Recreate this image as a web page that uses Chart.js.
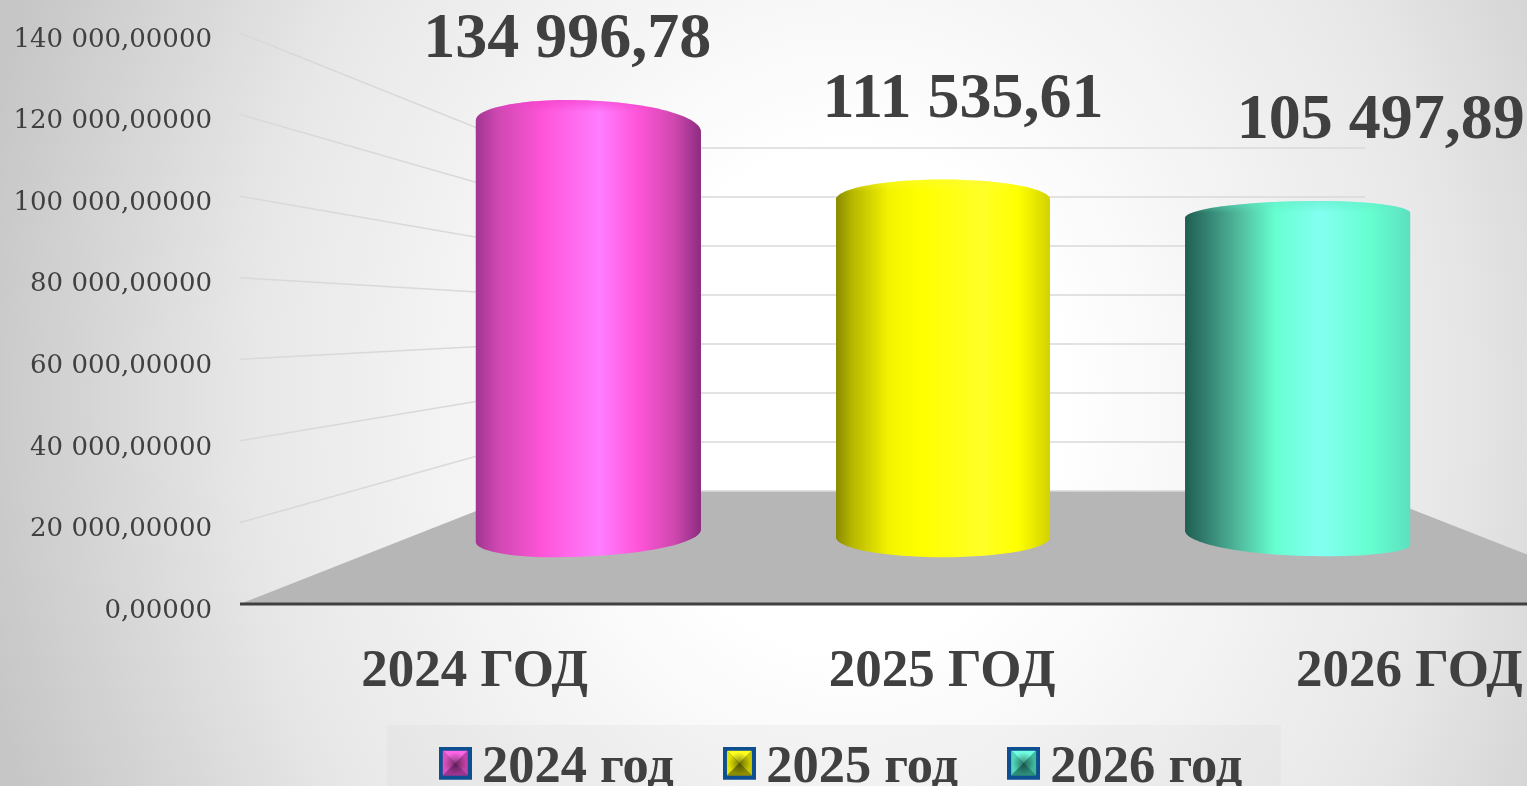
<!DOCTYPE html>
<html>
<head>
<meta charset="utf-8">
<script src="https://cdn.jsdelivr.net/npm/chart.js@4"></script>
<style>
  html, body { margin: 0; height: 100%; overflow: hidden; }
  body { background: radial-gradient(ellipse 850px 1000px at 850px 400px, #ffffff 25%, #e8e8e8 70%, #c6c6c6 105%); }
  canvas { display: block; }
</style>
</head>
<body>
<canvas id="myChart" width="1527" height="786"></canvas>
<script>
const categories = ['2024 ГОД', '2025 ГОД', '2026 ГОД'];
const seriesNames = ['2024 год', '2025 год', '2026 год'];
const seriesValues = [134996.78, 111535.61, 105497.89];
const axisTicks = [0, 20000, 40000, 60000, 80000, 100000, 120000, 140000];

const textColor = '#404040';
const serifBold = '"Liberation Serif", serif';

// left to right shading of each cylinder
const shades = [
  [[0, '#a0368f'], [0.1, '#cf48b2'], [0.3, '#ff55d8'], [0.55, '#ff7dff'], [0.72, '#ff55d8'], [0.88, '#d048b0'], [1, '#8c2c80']],
  [[0, '#8a8a00'], [0.08, '#b8b800'], [0.25, '#f4f400'], [0.4, '#ffff00'], [0.68, '#ffff28'], [0.85, '#ffff00'], [1, '#d2d200']],
  [[0, '#205f52'], [0.1, '#348272'], [0.25, '#52bfa0'], [0.4, '#66ffd0'], [0.6, '#84fff2'], [0.82, '#66ffd0'], [1, '#5ce0c0']]
];
// shoulders and apex of each cylinder, relative to the bar's top and base
const caps = [
  { topL: -6, topR: 6, topA: -26, topX: 0.4, botL: 5, botR: -8, botA: 20, botX: 0.33 },
  { topL: 2, topR: 2, topA: -18, topX: 0.5, botL: 0, botR: 0, botA: 20, botX: 0.5 },
  { topL: 2, topR: -3, topA: -15, topX: 0.6, botL: -7, botR: 8, botA: 19, botX: 0.63 }
];
const capTint = ['rgba(240,60,200,0.6)', 'rgba(250,250,60,0.5)', 'rgba(100,235,200,0.6)'];
const labelShift = [[-21, -86], [20, -97], [83, -94]];
const swatchFaces = [
  ['#ff66e6', '#dd50c0', '#c442a8', '#9c3490'],
  ['#ffff20', '#e4e400', '#c8c800', '#8e8e00'],
  ['#70ffe0', '#50d8b8', '#40b89c', '#2c8c78']
];

function formatTick(v) {
  const s = String(v);
  const whole = s.replace(/\B(?=(\d{3})+$)/g, ' ');
  return whole + ',00000';
}
function formatValue(v) {
  const parts = v.toFixed(2).split('.');
  return parts[0].replace(/\B(?=(\d{3})+$)/g, ' ') + ',' + parts[1];
}

// the canvas is taller than the swatch so the swatch lines up with the digits
function makeSwatch(faces) {
  const c = document.createElement('canvas');
  c.width = 33; c.height = 43;
  const g = c.getContext('2d');
  g.fillStyle = '#0d4f90';
  g.fillRect(0, 0, 33, 33);
  const a = 4, b = 29, m = 16.5;
  const tri = [[a, a, b, a], [a, a, a, b], [b, a, b, b], [a, b, b, b]];
  tri.forEach((t, i) => {
    g.fillStyle = faces[i];
    g.beginPath();
    g.moveTo(t[0], t[1]); g.lineTo(t[2], t[3]); g.lineTo(m, m);
    g.closePath();
    g.fill();
  });
  const dip = g.createRadialGradient(m, m, 0, m, m, 11);
  dip.addColorStop(0, 'rgba(0,0,0,0.45)');
  dip.addColorStop(1, 'rgba(0,0,0,0)');
  g.fillStyle = dip;
  g.fillRect(a, a, b - a, b - a);
  return c;
}
const swatches = swatchFaces.map(makeSwatch);

function barShade(chart, i) {
  const xs = chart.scales.x;
  const w = chart.data.datasets[i].barThickness;
  const cx = xs.getPixelForValue(i);
  const grad = chart.ctx.createLinearGradient(cx - w / 2, 0, cx + w / 2, 0);
  shades[i].forEach(s => grad.addColorStop(s[0], s[1]));
  return grad;
}

function cylinderPath(ctx, bar, cap) {
  const w = bar.width, l = bar.x - w / 2, r = bar.x + w / 2;
  const tL = bar.y + cap.topL, tR = bar.y + cap.topR, tA = bar.y + cap.topA, tX = l + w * cap.topX;
  const bL = bar.base + cap.botL, bR = bar.base + cap.botR, bA = bar.base + cap.botA, bX = l + w * cap.botX;
  const k = 0.55;
  ctx.beginPath();
  ctx.moveTo(l, bL);
  ctx.lineTo(l, tL);
  ctx.bezierCurveTo(l, tL - k * (tL - tA), tX - k * (tX - l), tA, tX, tA);
  ctx.bezierCurveTo(tX + k * (r - tX), tA, r, tR - k * (tR - tA), r, tR);
  ctx.lineTo(r, bR);
  ctx.bezierCurveTo(r, bR + k * (bA - bR), bX + k * (r - bX), bA, bX, bA);
  ctx.bezierCurveTo(bX - k * (bX - l), bA, l, bL + k * (bA - bL), l, bL);
  ctx.closePath();
}

// floor, back wall and the side lines running off the front axis
const stagePlugin = {
  id: 'stage',
  afterLayout(chart) {
    // legend is centred under the whole drawing, not under the bars' area
    chart.legend.left += 111;
    chart.legend.right += 111;
  },
  beforeDraw(chart) {
    // pale band behind the legend
    chart.ctx.fillStyle = 'rgba(205,205,205,0.16)';
    chart.ctx.fillRect(387, 725, 894, 61);
  },
  beforeDatasetsDraw(chart) {
    const ctx = chart.ctx, ys = chart.scales.y;
    const frontL = 240, backL = 527, backR = 1365, frontR = 1653;
    const lift = 7; // tick labels sit a little under their lines
    const zero = ys.getPixelForValue(0) - lift, backZero = 491, backTop = 148;
    ctx.save();
    ctx.fillStyle = '#b6b6b6';
    ctx.beginPath();
    ctx.moveTo(frontL, zero); ctx.lineTo(backL, backZero); ctx.lineTo(backR, backZero); ctx.lineTo(frontR, zero);
    ctx.closePath();
    ctx.fill();
    ctx.strokeStyle = '#d9d9d9';
    ctx.lineWidth = 1.5;
    axisTicks.forEach(t => {
      const fy = ys.getPixelForValue(t) - lift;
      const by = backZero - (t / axisTicks[axisTicks.length - 1]) * (backZero - backTop);
      ctx.beginPath();
      if (t === 0) {
        ctx.moveTo(backL, by);
      } else {
        ctx.moveTo(frontL, fy);
        ctx.lineTo(backL, by);
      }
      ctx.lineTo(backR, by);
      ctx.stroke();
    });
    ctx.strokeStyle = textColor;
    ctx.lineWidth = 3;
    ctx.beginPath();
    ctx.moveTo(frontL, zero); ctx.lineTo(chart.width, zero);
    ctx.stroke();
    ctx.restore();
  },
  beforeDatasetDraw(chart, args) {
    const i = args.index, ctx = chart.ctx;
    const bar = chart.getDatasetMeta(i).data[i];
    ctx.save();
    cylinderPath(ctx, bar, caps[i]);
    ctx.fillStyle = barShade(chart, i);
    ctx.fill();
    ctx.clip();
  },
  afterDatasetDraw(chart, args) {
    const i = args.index, ctx = chart.ctx;
    const bar = chart.getDatasetMeta(i).data[i];
    const cap = caps[i];
    // tint on the rounded top, still clipped to the cylinder
    const tint = ctx.createLinearGradient(0, bar.y + cap.topA, 0, bar.y + cap.topA + 12);
    tint.addColorStop(0, capTint[i]);
    tint.addColorStop(1, capTint[i].replace(/[\d.]+\)$/, '0)'));
    ctx.fillStyle = tint;
    ctx.fillRect(bar.x - bar.width / 2, bar.y + cap.topA, bar.width, 12);
    ctx.restore();
  },
  afterDraw(chart) {
    const ctx = chart.ctx, xs = chart.scales.x;
    const mid = xs.getPixelForValue(1);
    ctx.save();
    ctx.fillStyle = textColor;
    ctx.textAlign = 'center';
    ctx.textBaseline = 'middle';
    ctx.font = 'bold 64px ' + serifBold;
    seriesValues.forEach((v, i) => {
      const bar = chart.getDatasetMeta(i).data[i];
      ctx.fillText(formatValue(v), bar.x + labelShift[i][0], bar.y + labelShift[i][1]);
    });
    // category names sit on the nearer floor edge, so they spread wider than the bars
    ctx.font = 'bold 53px ' + serifBold;
    categories.forEach((c, i) => {
      ctx.fillText(c, mid + (xs.getPixelForValue(i) - mid) * 1.318 - 1, 672);
    });
    ctx.restore();
  }
};

const chartCtx = document.getElementById('myChart').getContext('2d');
const newChart = new Chart(chartCtx, {
  type: 'bar',
  data: {
    labels: categories,
    datasets: seriesValues.map((v, i) => ({
      label: seriesNames[i],
      data: categories.map((c, j) => (j === i ? v : null)),
      yAxisID: 'y2',
      barThickness: [225, 214, 225][i],
      borderWidth: 0,
      backgroundColor: ctx => barShade(ctx.chart, i)
    }))
  },
  options: {
    responsive: false,
    animation: false,
    layout: { padding: { left: 0, right: 52, top: 40, bottom: -18.5 } },
    plugins: {
      tooltip: { enabled: false },
      legend: {
        position: 'bottom',
        labels: {
          usePointStyle: true,
          pointStyleWidth: 1,
          padding: 65,
          color: textColor,
          font: { family: serifBold, size: 52.5, weight: 'bold' },
          generateLabels: chart => chart.data.datasets.map((d, i) => ({
            text: d.label,
            datasetIndex: i,
            pointStyle: swatches[i],
            fontColor: textColor,
            lineWidth: 0
          }))
        }
      }
    },
    scales: {
      x: {
        stacked: true,
        grid: { display: false },
        border: { display: false },
        ticks: { display: false },
        afterFit: scale => { scale.height = 66; }
      },
      y: {
        position: 'left',
        min: 0,
        max: 140000,
        grid: { display: false, drawTicks: false },
        border: { display: false },
        afterBuildTicks: scale => { scale.ticks = axisTicks.map(value => ({ value })); },
        ticks: {
          padding: 199,
          color: textColor,
          font: { family: '"DejaVu Serif", serif', size: 26 },
          callback: formatTick
        },
        afterFit: scale => {
          scale.width = 411;
          scale.paddingTop = 0;
          scale.paddingBottom = 0;
        }
      },
      // the bars stand further back than the front axis, so they get their own scale
      y2: {
        display: false,
        position: 'left',
        min: -24262,
        max: 163279
      }
    }
  },
  plugins: [stagePlugin]
});
</script>
</body>
</html>
